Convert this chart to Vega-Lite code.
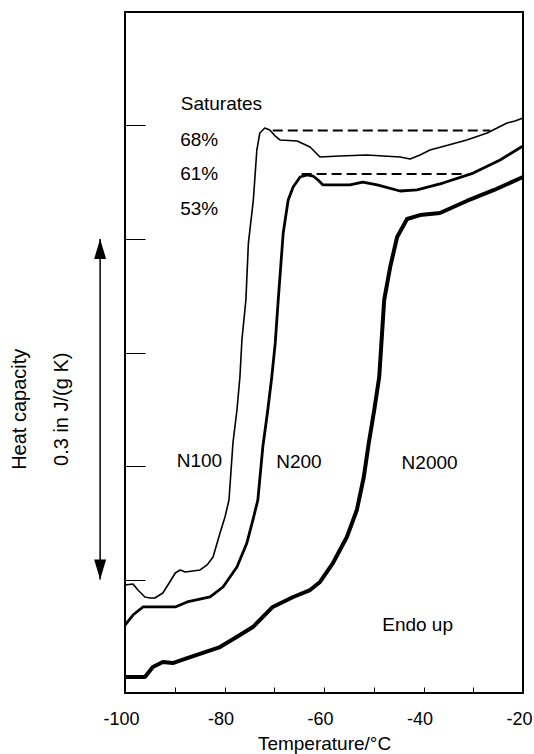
{
  "$schema": "https://vega.github.io/schema/vega-lite/v6.json",
  "width": 398,
  "height": 681,
  "autosize": {"type": "none"},
  "padding": {"left": 125, "top": 12, "right": 11, "bottom": 61},
  "config": {
    "font": "Liberation Sans",
    "view": {"stroke": "black", "strokeWidth": 2}
  },
  "datasets": {
    "curves": [
      {"s": "N100", "T": -100, "cp": 0.952},
      {"s": "N100", "T": -98.4, "cp": 0.960},
      {"s": "N100", "T": -97.4, "cp": 0.907},
      {"s": "N100", "T": -96.0, "cp": 0.846},
      {"s": "N100", "T": -95.0, "cp": 0.837},
      {"s": "N100", "T": -94.0, "cp": 0.837},
      {"s": "N100", "T": -92.4, "cp": 0.881},
      {"s": "N100", "T": -91.0, "cp": 0.978},
      {"s": "N100", "T": -89.9, "cp": 1.057},
      {"s": "N100", "T": -88.9, "cp": 1.084},
      {"s": "N100", "T": -87.9, "cp": 1.066},
      {"s": "N100", "T": -84.9, "cp": 1.084},
      {"s": "N100", "T": -83.5, "cp": 1.128},
      {"s": "N100", "T": -82.3, "cp": 1.198},
      {"s": "N100", "T": -80.9, "cp": 1.410},
      {"s": "N100", "T": -79.9, "cp": 1.551},
      {"s": "N100", "T": -79.1, "cp": 1.700},
      {"s": "N100", "T": -78.3, "cp": 2.203},
      {"s": "N100", "T": -77.5, "cp": 2.493},
      {"s": "N100", "T": -76.9, "cp": 2.784},
      {"s": "N100", "T": -76.5, "cp": 3.110},
      {"s": "N100", "T": -75.7, "cp": 3.463},
      {"s": "N100", "T": -75.2, "cp": 3.962},
      {"s": "N100", "T": -74.2, "cp": 4.344},
      {"s": "N100", "T": -73.5, "cp": 4.784},
      {"s": "N100", "T": -72.9, "cp": 4.934},
      {"s": "N100", "T": -71.9, "cp": 4.978},
      {"s": "N100", "T": -70.9, "cp": 4.960},
      {"s": "N100", "T": -69.8, "cp": 4.907},
      {"s": "N100", "T": -68.8, "cp": 4.872},
      {"s": "N100", "T": -65.4, "cp": 4.863},
      {"s": "N100", "T": -62.8, "cp": 4.811},
      {"s": "N100", "T": -60.8, "cp": 4.722},
      {"s": "N100", "T": -56.8, "cp": 4.731},
      {"s": "N100", "T": -51.4, "cp": 4.740},
      {"s": "N100", "T": -44.7, "cp": 4.722},
      {"s": "N100", "T": -42.7, "cp": 4.705},
      {"s": "N100", "T": -40.7, "cp": 4.740},
      {"s": "N100", "T": -38.7, "cp": 4.784},
      {"s": "N100", "T": -35.7, "cp": 4.819},
      {"s": "N100", "T": -31.3, "cp": 4.872},
      {"s": "N100", "T": -27.2, "cp": 4.934},
      {"s": "N100", "T": -23.2, "cp": 5.022},
      {"s": "N100", "T": -21.6, "cp": 5.040},
      {"s": "N100", "T": -20, "cp": 5.066},
      {"s": "N200", "T": -100, "cp": 0.599},
      {"s": "N200", "T": -98.4, "cp": 0.687},
      {"s": "N200", "T": -96.4, "cp": 0.758},
      {"s": "N200", "T": -89.9, "cp": 0.758},
      {"s": "N200", "T": -87.5, "cp": 0.802},
      {"s": "N200", "T": -82.9, "cp": 0.846},
      {"s": "N200", "T": -80.3, "cp": 0.934},
      {"s": "N200", "T": -77.5, "cp": 1.110},
      {"s": "N200", "T": -75.5, "cp": 1.322},
      {"s": "N200", "T": -74.3, "cp": 1.524},
      {"s": "N200", "T": -73.3, "cp": 1.700},
      {"s": "N200", "T": -72.3, "cp": 2.167},
      {"s": "N200", "T": -71.3, "cp": 2.493},
      {"s": "N200", "T": -70.5, "cp": 2.784},
      {"s": "N200", "T": -69.8, "cp": 3.084},
      {"s": "N200", "T": -69.2, "cp": 3.463},
      {"s": "N200", "T": -68.2, "cp": 4.053},
      {"s": "N200", "T": -67.2, "cp": 4.344},
      {"s": "N200", "T": -66.2, "cp": 4.458},
      {"s": "N200", "T": -64.8, "cp": 4.546},
      {"s": "N200", "T": -63.4, "cp": 4.564},
      {"s": "N200", "T": -62.2, "cp": 4.555},
      {"s": "N200", "T": -61.2, "cp": 4.520},
      {"s": "N200", "T": -60.2, "cp": 4.476},
      {"s": "N200", "T": -54.8, "cp": 4.476},
      {"s": "N200", "T": -52.2, "cp": 4.502},
      {"s": "N200", "T": -49.3, "cp": 4.476},
      {"s": "N200", "T": -44.7, "cp": 4.423},
      {"s": "N200", "T": -41.3, "cp": 4.432},
      {"s": "N200", "T": -36.1, "cp": 4.493},
      {"s": "N200", "T": -30.0, "cp": 4.581},
      {"s": "N200", "T": -24.6, "cp": 4.696},
      {"s": "N200", "T": -20, "cp": 4.819},
      {"s": "N2000", "T": -100, "cp": 0.141},
      {"s": "N2000", "T": -96.0, "cp": 0.141},
      {"s": "N2000", "T": -94.4, "cp": 0.229},
      {"s": "N2000", "T": -92.4, "cp": 0.273},
      {"s": "N2000", "T": -90.4, "cp": 0.264},
      {"s": "N2000", "T": -87.5, "cp": 0.308},
      {"s": "N2000", "T": -80.9, "cp": 0.405},
      {"s": "N2000", "T": -76.9, "cp": 0.511},
      {"s": "N2000", "T": -74.3, "cp": 0.581},
      {"s": "N2000", "T": -70.3, "cp": 0.758},
      {"s": "N2000", "T": -66.2, "cp": 0.846},
      {"s": "N2000", "T": -62.8, "cp": 0.907},
      {"s": "N2000", "T": -60.8, "cp": 0.978},
      {"s": "N2000", "T": -58.2, "cp": 1.145},
      {"s": "N2000", "T": -55.4, "cp": 1.374},
      {"s": "N2000", "T": -53.4, "cp": 1.612},
      {"s": "N2000", "T": -52.0, "cp": 1.903},
      {"s": "N2000", "T": -51.0, "cp": 2.203},
      {"s": "N2000", "T": -49.9, "cp": 2.493},
      {"s": "N2000", "T": -48.9, "cp": 2.784},
      {"s": "N2000", "T": -47.9, "cp": 3.463},
      {"s": "N2000", "T": -46.7, "cp": 3.753},
      {"s": "N2000", "T": -45.3, "cp": 4.018},
      {"s": "N2000", "T": -43.3, "cp": 4.176},
      {"s": "N2000", "T": -40.7, "cp": 4.211},
      {"s": "N2000", "T": -36.7, "cp": 4.229},
      {"s": "N2000", "T": -31.3, "cp": 4.335},
      {"s": "N2000", "T": -25.8, "cp": 4.432},
      {"s": "N2000", "T": -20, "cp": 4.546}
    ],
    "dashes": [
      {"d": "a", "T": -70.3, "cp": 4.955},
      {"d": "a", "T": -26.6, "cp": 4.955},
      {"d": "b", "T": -64.5, "cp": 4.573},
      {"d": "b", "T": -31.3, "cp": 4.573}
    ],
    "labels": [
      {"label": "Saturates", "T": -88.8, "cp": 5.19},
      {"label": "68%", "T": -88.9, "cp": 4.875},
      {"label": "61%", "T": -88.9, "cp": 4.571},
      {"label": "53%", "T": -88.9, "cp": 4.266},
      {"label": "N100", "T": -89.6, "cp": 2.04},
      {"label": "N200", "T": -69.6, "cp": 2.038},
      {"label": "N2000", "T": -44.4, "cp": 2.024},
      {"label": "Endo up", "T": -48.3, "cp": 0.596}
    ],
    "ylabels": [
      {"label": "Heat capacity", "T": -121.2, "cp": 2.5},
      {"label": "0.3 in J/(g K)", "T": -112.6, "cp": 2.5}
    ],
    "arrow": [
      {"T": -105, "lo": 1, "hi": 4}
    ]
  },
  "layer": [
    {
      "data": {"name": "curves"},
      "mark": {"type": "line", "color": "black", "strokeJoin": "round"},
      "encoding": {
        "x": {
          "field": "T", "type": "quantitative",
          "scale": {"domain": [-100, -20], "nice": false},
          "axis": {
            "values": [-100, -90, -80, -70, -60, -50, -40, -30, -20],
            "labelExpr": "datum.value % 20 === 0 ? '' + datum.value : ''",
            "tickSize": -6, "tickColor": "black", "tickWidth": 1,
            "domain": false, "grid": false,
            "labelFontSize": 18, "labelColor": "black", "labelPadding": 23,
            "labelFlush": false, "labelOffset": -4, "labelOverlap": false,
            "title": "Temperature/°C", "titleFontSize": 19, "titleFontWeight": "normal",
            "titleColor": "black", "titlePadding": 6
          }
        },
        "y": {
          "field": "cp", "type": "quantitative",
          "scale": {"domain": [0, 6], "nice": false, "zero": false},
          "axis": {
            "values": [1, 2, 3, 4, 5], "labels": false, "tickSize": -20,
            "tickColor": "black", "tickWidth": 1, "domain": false, "grid": false, "title": null
          }
        },
        "strokeWidth": {
          "field": "s", "type": "nominal",
          "scale": {"domain": ["N100", "N200", "N2000"], "range": [1.6, 4, 7]},
          "legend": null
        }
      }
    },
    {
      "data": {"name": "dashes"},
      "mark": {"type": "line", "color": "black", "strokeWidth": 2, "strokeDash": [10, 5]},
      "encoding": {
        "x": {"field": "T", "type": "quantitative"},
        "y": {"field": "cp", "type": "quantitative"},
        "detail": {"field": "d", "type": "nominal"}
      }
    },
    {
      "data": {"name": "labels"},
      "mark": {"type": "text", "align": "left", "baseline": "middle", "fontSize": 19, "color": "black"},
      "encoding": {
        "x": {"field": "T", "type": "quantitative"},
        "y": {"field": "cp", "type": "quantitative"},
        "text": {"field": "label"}
      }
    },
    {
      "data": {"name": "ylabels"},
      "mark": {"type": "text", "align": "center", "baseline": "middle", "angle": 270, "fontSize": 20, "color": "black", "clip": false},
      "encoding": {
        "x": {"field": "T", "type": "quantitative"},
        "y": {"field": "cp", "type": "quantitative"},
        "text": {"field": "label"}
      }
    },
    {
      "data": {"name": "arrow"},
      "mark": {"type": "rule", "color": "black", "strokeWidth": 1.5, "clip": false},
      "encoding": {
        "x": {"field": "T", "type": "quantitative"},
        "y": {"field": "lo", "type": "quantitative"},
        "y2": {"field": "hi"}
      }
    },
    {
      "data": {"name": "arrow"},
      "mark": {"type": "point", "shape": "M0,0L0.6,2L-0.6,2Z", "size": 400, "filled": true, "color": "black", "opacity": 1, "clip": false},
      "encoding": {
        "x": {"field": "T", "type": "quantitative"},
        "y": {"field": "hi", "type": "quantitative"}
      }
    },
    {
      "data": {"name": "arrow"},
      "mark": {"type": "point", "shape": "M0,0L0.6,-2L-0.6,-2Z", "size": 400, "filled": true, "color": "black", "opacity": 1, "clip": false},
      "encoding": {
        "x": {"field": "T", "type": "quantitative"},
        "y": {"field": "lo", "type": "quantitative"}
      }
    }
  ]
}
